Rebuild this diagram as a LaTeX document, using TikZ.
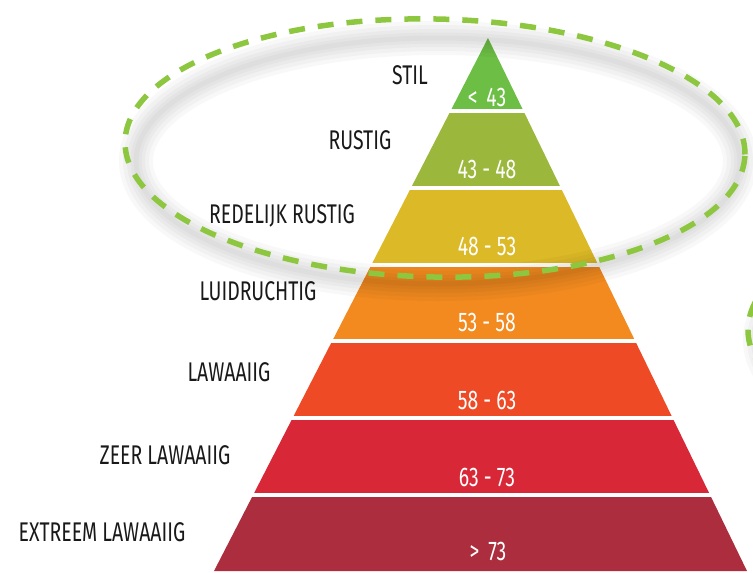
\documentclass[tikz,border=0pt]{standalone}
\usepackage{fontspec}
\setmainfont{Fira Sans}[FakeStretch=0.72]
\definecolor{stilcol}{HTML}{6CBE45}
\definecolor{rustigcol}{HTML}{9CB83C}
\definecolor{redelijkcol}{HTML}{DCB926}
\definecolor{luidcol}{HTML}{F28A1F}
\definecolor{lawaaicol}{HTML}{EE4A26}
\definecolor{zeercol}{HTML}{D82837}
\definecolor{extreemcol}{HTML}{AC2E3E}
\definecolor{ringgreen}{HTML}{8DC63F}

\begin{document}
\begin{tikzpicture}[x=1pt, y=-1pt,
    labeltext/.style={font=\fontsize{27}{31}\selectfont, text=black!90, inner sep=0pt},
    valuetext/.style={font=\fontsize{27}{31}\selectfont, text=white, inner sep=0pt},
    gapline/.style={white, line width=3.5pt},
    ring/.style={draw=ringgreen, line width=5.5pt, dash pattern=on 16pt off 13pt},
    ringshade/.style={draw=black, line width=#1, opacity=0.026}]
    \useasboundingbox (0,0) rectangle (753,573);
    \clip (0,0) rectangle (753,573);

    % pyramid layers, top to bottom
    \fill[stilcol] (488,38) -- (523.5,111) -- (450.5,111) -- cycle;
    \fill[rustigcol] (450.5,111) -- (523.5,111) -- (560.9,188) -- (410.9,188) -- cycle;
    \fill[redelijkcol] (410.9,188) -- (560.9,188) -- (598.3,265) -- (371.3,265) -- cycle;
    \fill[luidcol] (371.3,265) -- (598.3,265) -- (635.2,341) -- (332.2,341) -- cycle;
    \fill[lawaaicol] (332.2,341) -- (635.2,341) -- (672.6,418) -- (292.6,418) -- cycle;
    \fill[zeercol] (292.6,418) -- (672.6,418) -- (710.1,495) -- (253.1,495) -- cycle;
    \fill[extreemcol] (253.1,495) -- (710.1,495) -- (747,571) -- (214,571) -- cycle;

    % white gaps between layers
    \draw[gapline] (448,111) -- (526,111);
    \draw[gapline] (408,188) -- (564,188);
    \draw[gapline] (368,265) -- (601,265);
    \draw[gapline] (329,341) -- (638,341);
    \draw[gapline] (289,418) -- (676,418);
    \draw[gapline] (250,495) -- (713,495);

    % values
    \node[valuetext] (v1) at (487,97) {<\,\,43};
    \node[valuetext] (v2) at (487,169) {43 - 48};
    \node[valuetext] (v3) at (487,246) {48 - 53};
    \node[valuetext] (v4) at (487,322) {53 - 58};
    \node[valuetext] (v5) at (487,400) {58 - 63};
    \node[valuetext] (v6) at (487,477) {63 - 73};
    \node[valuetext] (v7) at (488,551) {>\,\,73};

    % labels
    \node[labeltext] (stil) at (410,75) {STIL};
    \node[labeltext] (rustig) at (360,140) {RUSTIG};
    \node[labeltext] (redelijk) at (282,216) {REDELIJK RUSTIG};
    \node[labeltext] (luid) at (258,291) {LUIDRUCHTIG};
    \node[labeltext] (lawaai) at (229,372) {LAWAAIIG};
    \node[labeltext] (zeer) at (165,455) {ZEER LAWAAIIG};
    \node[labeltext] (extreem) at (102,532) {EXTREEM LAWAAIIG};

    % soft shadow of the dashed rings
    \draw[ringshade=34pt] (438,161) ellipse [x radius=302pt, y radius=123pt];
    \draw[ringshade=26pt] (438,161) ellipse [x radius=302pt, y radius=123pt];
    \draw[ringshade=18pt] (438,161) ellipse [x radius=302pt, y radius=123pt];
    \draw[ringshade=11pt] (438,161) ellipse [x radius=302pt, y radius=123pt];
    \draw[ringshade=5pt] (438,161) ellipse [x radius=302pt, y radius=123pt];
    \draw[ringshade=34pt] (1062,340) ellipse [x radius=302pt, y radius=123pt];
    \draw[ringshade=26pt] (1062,340) ellipse [x radius=302pt, y radius=123pt];
    \draw[ringshade=18pt] (1062,340) ellipse [x radius=302pt, y radius=123pt];
    \draw[ringshade=11pt] (1062,340) ellipse [x radius=302pt, y radius=123pt];

    % dashed rings
    \draw[ring, rotate around={-1.2:(435,148)}] (435,148) ellipse [x radius=310pt, y radius=129pt];
    \draw[ring, dash phase=6pt] (1058,330) ellipse [x radius=310pt, y radius=129pt];
\end{tikzpicture}
\end{document}
